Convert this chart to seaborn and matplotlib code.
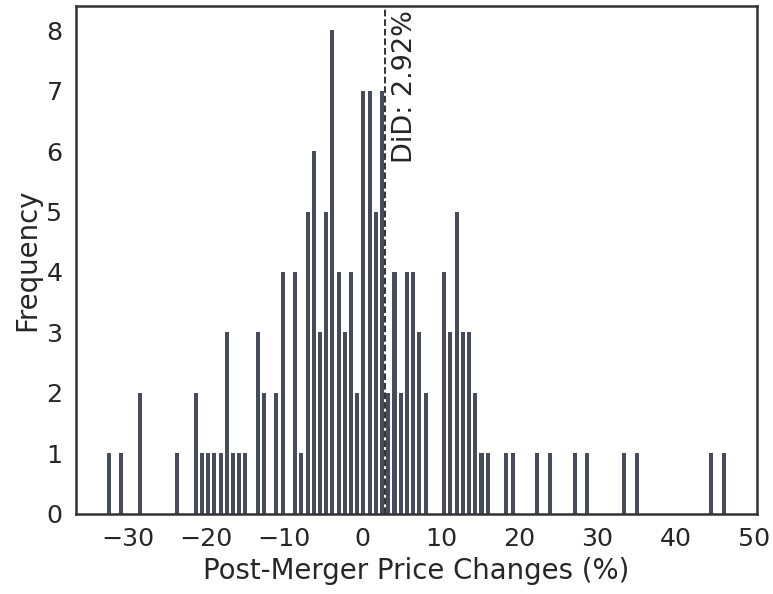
import numpy as np
import pandas as pd
import matplotlib
matplotlib.use("Agg")
import matplotlib.pyplot as plt
import seaborn as sns

# histogram: 100 equal bins between the data min and max
x_min = -32.83
x_max = 46.54
bin_counts = [
    1, 0, 1, 0, 0, 2, 0, 0, 0, 0,
    0, 1, 0, 0, 2, 1, 1, 1, 1, 3,
    1, 1, 1, 0, 3, 2, 0, 2, 4, 0,
    4, 1, 5, 6, 3, 5, 8, 4, 3, 4,
    2, 7, 7, 5, 7, 2, 4, 2, 4, 4,
    3, 2, 0, 0, 4, 3, 5, 3, 3, 2,
    1, 1, 0, 0, 1, 1, 0, 0, 0, 1,
    0, 1, 0, 0, 0, 1, 0, 1, 0, 0,
    0, 0, 0, 1, 0, 1, 0, 0, 0, 0,
    0, 0, 0, 0, 0, 0, 0, 1, 0, 1,
]
did_estimate = 2.92

n_bins = len(bin_counts)
edges = np.linspace(x_min, x_max, n_bins + 1)
centers = (edges[:-1] + edges[1:]) / 2
df = pd.DataFrame({"change": centers, "count": bin_counts})

sns.set_theme(style="white", font_scale=1.65)
plt.rcParams["axes.edgecolor"] = "#333333"
plt.rcParams["axes.linewidth"] = 1.8

fig, ax = plt.subplots(figsize=(7.73, 5.94), dpi=100)

sns.histplot(data=df, x="change", weights="count", bins=n_bins,
             binrange=(x_min, x_max), shrink=0.65,
             color="#464c5c", alpha=1, edgecolor="none", ax=ax)

ax.axvline(did_estimate, color="#222222", linestyle="--", linewidth=1.3)
ax.text(did_estimate + 0.85, 8.33, f"DiD: {did_estimate:.2f}%", rotation=90,
        ha="left", va="top", fontsize=19.5, color="#262626")

ax.set_xlabel("Post-Merger Price Changes (%)")
ax.set_ylabel("Frequency")
ax.set_xticks([-30, -20, -10, 0, 10, 20, 30, 40, 50])

plt.subplots_adjust(left=0.098, right=0.979, top=0.99, bottom=0.135)
plt.savefig("out.png", dpi=100)
